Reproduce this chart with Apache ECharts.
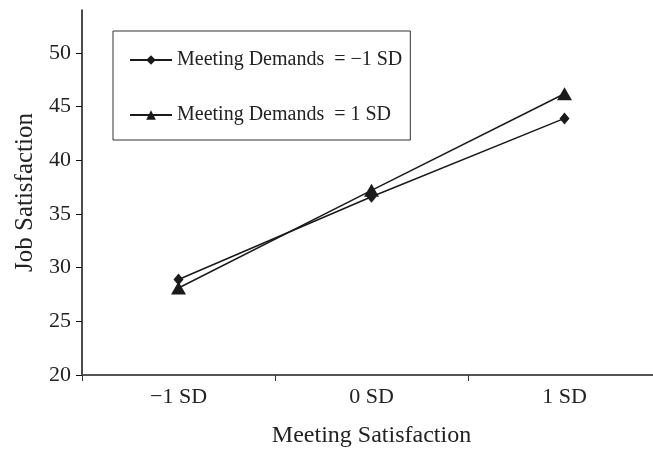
<!DOCTYPE html>
<html><head><meta charset="utf-8">
<script src="https://cdn.jsdelivr.net/npm/echarts@6/dist/echarts.min.js"></script>
<style>html,body{margin:0;padding:0;background:#fff}#c{width:653px;height:449px}</style>
</head><body><div id="c"></div>
<script>
const categories = ['\u22121 SD', '0 SD', '1 SD'];
const seriesNames = ['Meeting Demands  = \u22121 SD', 'Meeting Demands  = 1 SD'];
const lowDemands = [28.9, 36.6, 43.9];
const highDemands = [28.1, 37.2, 46.2];
const yTicks = [20, 25, 30, 35, 40, 45, 50];

const font = 'Liberation Serif';
const chart = echarts.init(document.getElementById('c'), null, {renderer: 'canvas'});
chart.setOption({
  animation: false,
  backgroundColor: '#fff',
  grid: {left: 82, width: 579, top: 10, height: 365, containLabel: false, outerBoundsMode: 'none'},
  legend: {
    orient: 'vertical', left: 113, top: 31,
    padding: [19, 8, 15, 16], itemGap: 35,
    itemWidth: 42, itemHeight: 12,
    borderColor: '#333', borderWidth: 1,
    textStyle: {fontFamily: font, fontSize: 20, color: '#222'},
    data: seriesNames
  },
  xAxis: {
    type: 'category', data: categories, boundaryGap: true,
    name: 'Meeting Satisfaction', nameLocation: 'middle', nameGap: 49,
    nameTextStyle: {fontFamily: font, fontSize: 24, color: '#222'},
    axisLine: {lineStyle: {color: '#555', width: 2}},
    axisTick: {show: true, length: 6, lineStyle: {color: '#333', width: 1}},
    axisLabel: {fontFamily: font, fontSize: 22, color: '#222', margin: 11}
  },
  yAxis: {
    type: 'value', min: 20, max: 54, interval: 5,
    name: 'Job Satisfaction', nameLocation: 'middle', nameGap: 44,
    nameTextStyle: {fontFamily: font, fontSize: 25, color: '#222'},
    axisLine: {show: true, lineStyle: {color: '#111', width: 1.5}},
    axisTick: {show: true, length: 6, lineStyle: {color: '#111'}, customValues: yTicks},
    axisLabel: {fontFamily: font, fontSize: 22, color: '#222', margin: 11, customValues: yTicks},
    splitLine: {show: false}
  },
  series: [
    {name: seriesNames[0], type: 'line', data: lowDemands, symbol: 'diamond', symbolSize: [10, 12],
     lineStyle: {color: '#1a1a1a', width: 1.5}, itemStyle: {color: '#1a1a1a'}},
    {name: seriesNames[1], type: 'line', data: highDemands, symbol: 'triangle', symbolSize: [15, 13],
     lineStyle: {color: '#1a1a1a', width: 1.5}, itemStyle: {color: '#1a1a1a'}}
  ]
});
</script></body></html>
